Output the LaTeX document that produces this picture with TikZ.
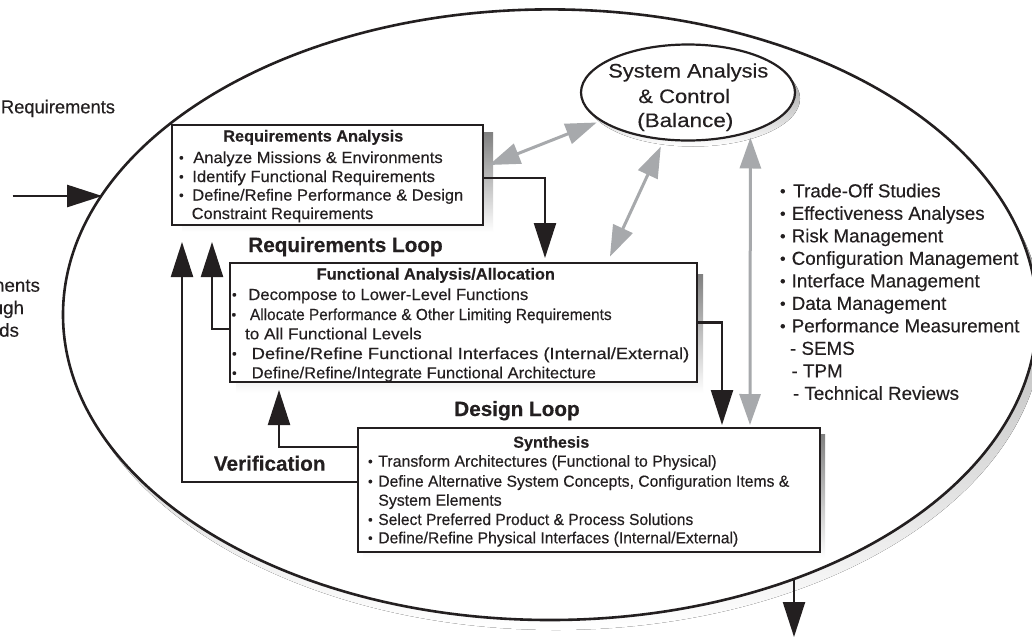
\documentclass[tikz,border=0pt]{standalone}
\usepackage{fontspec}
\setmainfont{Liberation Sans}[FakeBold=0.3]
\usepackage{graphicx}
\usetikzlibrary{arrows.meta,shapes.geometric}
\definecolor{ink}{HTML}{231F20}
\definecolor{shade}{HTML}{BCBEC0}
\definecolor{garr}{HTML}{A7A9AC}
\newcommand\bul[1]{\makebox[#1pt][l]{\raisebox{.04em}{\scalebox{.85}{\textbullet}}}}
\newcommand\fw[2]{\resizebox{#1pt}{\height}{#2}}
\begin{document}
\begin{tikzpicture}[x=1pt,y=-1pt,
 box/.style={draw=ink, line width=2.2pt, fill=white, inner sep=0pt, outer sep=0pt, anchor=north west},
 bodyt/.style={inner sep=0pt, outer sep=0pt, text=ink, anchor=base west, font=\fontsize{16}{19}\selectfont},
 titlet/.style={inner sep=0pt, outer sep=0pt, text=ink, anchor=base, font=\bfseries\fontsize{16}{19}\selectfont},
 listt/.style={inner sep=0pt, outer sep=0pt, text=ink, anchor=base west, font=\fontsize{18.8}{22}\selectfont},
 loopt/.style={inner sep=0pt, outer sep=0pt, text=ink, anchor=base, font=\bfseries\fontsize{20.7}{24}\selectfont},
 sact/.style={inner sep=0pt, outer sep=0pt, text=ink, anchor=base, font=\fontsize{19.5}{24}\selectfont},
 conn/.style={draw=ink, line width=2.3pt, -{Triangle[length=35pt,width=22pt]}},
 gconn/.style={draw=garr, line width=3pt, {Triangle[length=31pt,width=21pt]}-{Triangle[length=31pt,width=21pt]}},
]
\useasboundingbox (0,0) rectangle (1032,638);
\clip (0,0) rectangle (1032,638);
% shadows
\fill[shade] (556,324.7) ellipse [x radius=487, y radius=305.3];
\fill[shade] (182,132) rectangle (493,232);
\fill[shade] (236,274) rectangle (703,393);
\fill[shade] (363,434) rectangle (825,558);
\fill[shade] (693,98.5) ellipse [x radius=107, y radius=48];
% outer ellipse
\node[ellipse, draw=ink, line width=2.6pt, fill=white, inner sep=0pt, outer sep=0pt,
  minimum width=974pt, minimum height=610.6pt] (E) at (550,314.7) {};
% redraw small shadows that lie inside the ellipse
\fill[shade] (182,132) rectangle (493,232);
\fill[shade] (236,274) rectangle (703,393);
\fill[shade] (363,434) rectangle (825,558);
\fill[shade] (693,98.5) ellipse [x radius=107, y radius=48];
% boxes
\node[box, minimum width=311pt, minimum height=100pt] (ra) at (172,125) {};
\node[box, minimum width=467pt, minimum height=119pt] (fa) at (230,263) {};
\node[box, minimum width=462pt, minimum height=124pt] (sa) at (358,428) {};
\node[ellipse, draw=ink, line width=2.2pt, fill=white, inner sep=0pt, outer sep=0pt,
  minimum width=214pt, minimum height=96pt] (sac) at (688,92.5) {};
% gray connectors
\draw[gconn, shorten >=5pt] ([xshift=6pt,yshift=-40pt]ra.north east) -- (sac.198);
\draw[gconn, shorten <=7pt, shorten >=8pt] ([xshift=377pt]fa.north west) -- (sac.-117);
\draw[gconn, shorten <=3pt, shorten >=6pt] ([xshift=392pt]sa.north west) -- (sac.-32);
% black connectors
\coordinate (inStart) at (12.7,196);
\coordinate (outEnd) at (794,637);
\draw[conn] (inStart) -- (inStart -| E.165.2);
\draw[conn] (outEnd |- E.-47.3) -- (outEnd);
\draw[conn, shorten >=5pt] ([yshift=-3pt]ra.east) -| ([xshift=315pt]fa.north west);
\draw[conn, shorten >=3pt] (fa.east) -| ([xshift=364pt]sa.north west);
\draw[conn, shorten >=8pt] ([yshift=43pt]sa.west) -| ([xshift=49pt]fa.south west);
\draw[conn, shorten >=17pt] ([yshift=8pt]sa.west) -| ([xshift=10pt]ra.south west);
\draw[conn, shorten >=17pt] ([yshift=-6.5pt]fa.west) -| ([xshift=40pt]ra.south west);
% Requirements Analysis text
\node[titlet] (rat) at (313.3,141.5) {\fw{180}{Requirements Analysis}};
\node[bodyt] (ra1) at (179,163) {\bul{14.3}\fw{249.4}{Analyze Missions \& Environments}};
\node[bodyt] (ra2) at (179,182) {\bul{13.3}\fw{242.7}{Identify Functional Requirements}};
\node[bodyt] (ra3) at (179,200.5) {\bul{13.3}\fw{271}{Define/Refine Performance \& Design}};
\node[bodyt] (ra4) at (191.7,219) {\fw{181.6}{Constraint Requirements}};
% Functional Analysis text
\node[titlet] (fat) at (435.8,279.5) {\fw{238.3}{Functional Analysis/Allocation}};
\node[bodyt] (fa1) at (232,300) {\bul{16.3}\fw{280}{Decompose to Lower-Level Functions}};
\node[bodyt] (fa2) at (231.5,320) {\bul{18.5}\fw{361.7}{Allocate Performance \& Other Limiting Requirements}};
\node[bodyt] (fa3) at (245,339.3) {\fw{176.7}{to All Functional Levels}};
\node[bodyt] (fa4) at (232,359) {\bul{19.7}\fw{437.6}{Define/Refine Functional Interfaces (Internal/External)}};
\node[bodyt] (fa5) at (232,378.3) {\bul{19.7}\fw{344.3}{Define/Refine/Integrate Functional Architecture}};
% Synthesis text
\node[titlet] (sat) at (551.3,447.7) {\fw{76}{Synthesis}};
\node[bodyt] (sa1) at (368,466.7) {\bul{10.3}\fw{338.4}{Transform Architectures (Functional to Physical)}};
\node[bodyt] (sa2) at (368,486.7) {\bul{10.3}\fw{411}{Define Alternative System Concepts, Configuration Items \&}};
\node[bodyt] (sa3) at (378.3,505.7) {\fw{123.4}{System Elements}};
\node[bodyt] (sa4) at (368,525) {\bul{10.3}\fw{315}{Select Preferred Product \& Process Solutions}};
\node[bodyt] (sa5) at (368,543.3) {\bul{10.3}\fw{360}{Define/Refine Physical Interfaces (Internal/External)}};
% System Analysis & Control text
\node[sact] (sac1) at (688.3,77.5) {\fw{160}{System Analysis}};
\node[sact] (sac2) at (684.2,103) {\fw{91.7}{\& Control}};
\node[sact] (sac3) at (685.3,127) {\fw{96}{(Balance)}};
% right list
\node[listt] (l1) at (780,197.3) {\bul{13.3}Trade-Off Studies};
\node[listt] (l2) at (780,219.8) {\bul{11.7}Effectiveness Analyses};
\node[listt] (l3) at (780,242.3) {\bul{11.7}Risk Management};
\node[listt] (l4) at (780,264.8) {\bul{11.7}Configuration Management};
\node[listt] (l5) at (780,287.3) {\bul{11.7}Interface Management};
\node[listt] (l6) at (780,309.8) {\bul{11.7}Data Management};
\node[listt] (l7) at (780,332.3) {\bul{11.7}Performance Measurement};
\node[listt] (l8) at (790,354.8) {- SEMS};
\node[listt] (l9) at (791.5,377.3) {- TPM};
\node[listt] (l10) at (793,399.8) {- Technical Reviews};
% left texts (cut off by the picture edge as in the original)
\node[listt] (inreq) at (1,113.3) {\fw{114}{Requirements}};
\node[listt, anchor=base east] (cut1) at (40,291.7) {ments};
\node[listt, anchor=base east] (cut2) at (24,314.2) {ugh};
\node[listt, anchor=base east] (cut3) at (19,336.7) {ds};
% loop labels
\node[loopt] (rl) at (345.5,252) {Requirements Loop};
\node[loopt] (dl) at (517,416) {Design Loop};
\node[loopt] (vl) at (269.7,470.7) {Verification};
\end{tikzpicture}
\end{document}
